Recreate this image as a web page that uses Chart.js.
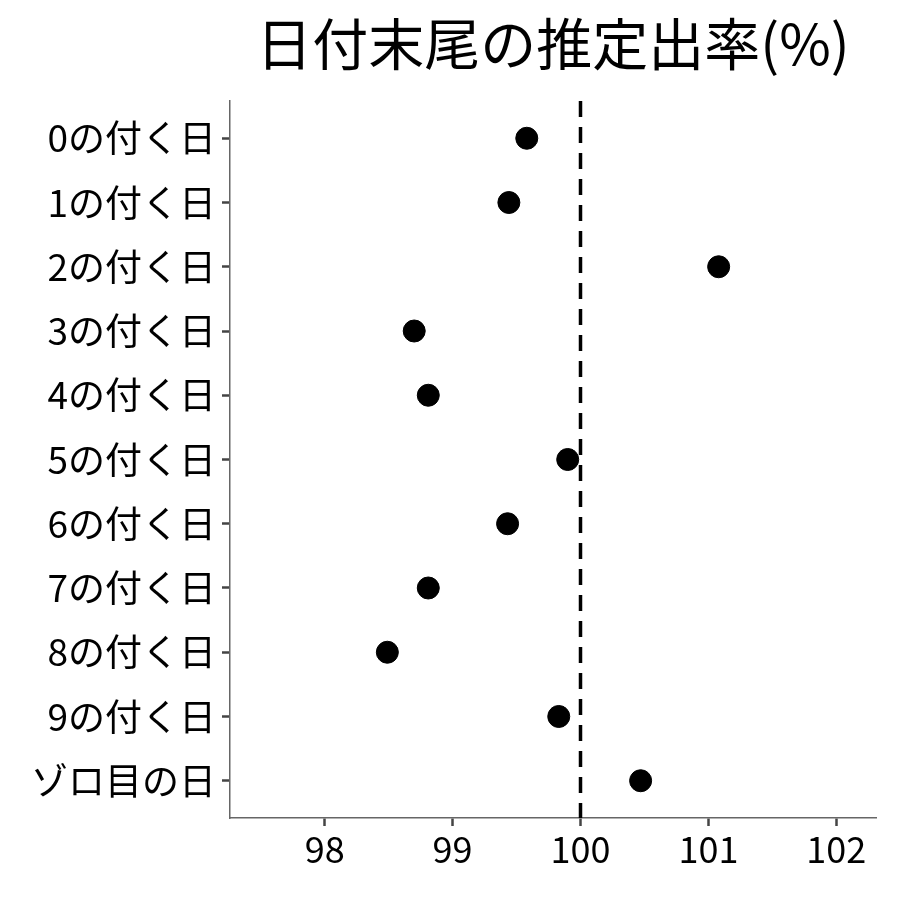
<!DOCTYPE html>
<html>
<head>
<meta charset="utf-8">
<script src="https://cdn.jsdelivr.net/npm/chart.js@4"></script>
<style>
  html, body { margin: 0; padding: 0; background: #fff; }
  #wrap { width: 900px; height: 900px; }
</style>
</head>
<body>
<div id="wrap"><canvas id="chart" width="900" height="900"></canvas></div>
<script>
// Data
const categories = ["0の付く日", "1の付く日", "2の付く日", "3の付く日", "4の付く日",
  "5の付く日", "6の付く日", "7の付く日", "8の付く日", "9の付く日", "ゾロ目の日"];
const rates = [99.58, 99.44, 101.08, 98.70, 98.81, 99.90, 99.43, 98.81, 98.49, 99.83, 100.47];
const xTicks = [98, 99, 100, 101, 102];
const refValue = 100;
const titleText = "日付末尾の推定出率(%)";

const FONT = "'Noto Sans CJK JP', 'Noto Sans', sans-serif";

// Title centred over the plot area + dashed reference line
const extras = {
  id: "extras",
  beforeDatasetsDraw(chart) {
    const { ctx, chartArea, scales } = chart;
    const x = scales.x.getPixelForValue(refValue);
    ctx.save();
    ctx.strokeStyle = "#000";
    ctx.lineWidth = 3.5;
    ctx.setLineDash([16, 10]);
    ctx.beginPath();
    ctx.moveTo(x, chartArea.top);
    ctx.lineTo(x, chartArea.bottom);
    ctx.stroke();
    ctx.restore();
  },
  afterDraw(chart) {
    const { ctx, chartArea } = chart;
    ctx.save();
    ctx.fillStyle = "#000";
    ctx.font = "56px " + FONT;
    ctx.textAlign = "center";
    ctx.textBaseline = "middle";
    ctx.fillText(titleText, (chartArea.left + chartArea.right) / 2, 44);
    ctx.restore();
  }
};

const axisGrid = {
  display: true,
  drawOnChartArea: false,
  drawTicks: true,
  tickLength: 8,
  tickColor: "#444",
  tickWidth: 2.5
};

new Chart(document.getElementById("chart"), {
  type: "scatter",
  data: {
    datasets: [{
      data: rates.map((v, i) => ({ x: v, y: i })),
      backgroundColor: "#000",
      borderColor: "#000",
      pointRadius: 11,
      pointHoverRadius: 11
    }]
  },
  options: {
    responsive: false,
    animation: false,
    layout: { padding: { top: 101, right: 24, left: 0, bottom: 0 } },
    plugins: { legend: { display: false }, tooltip: { enabled: false } },
    scales: {
      x: {
        type: "linear",
        min: 97.26,
        max: 102.31,
        afterBuildTicks(axis) { axis.ticks = xTicks.map(v => ({ value: v })); },
        afterFit(axis) { axis.height = 82; },
        grid: axisGrid,
        border: { display: true, color: "#666", width: 1.5 },
        ticks: { color: "#000", font: { family: FONT, size: 36 }, padding: 2 }
      },
      y: {
        type: "linear",
        reverse: true,
        min: -0.58,
        max: 10.58,
        afterBuildTicks(axis) { axis.ticks = categories.map((c, i) => ({ value: i })); },
        afterFit(axis) { axis.width = 230; },
        grid: axisGrid,
        border: { display: true, color: "#666", width: 1.5 },
        ticks: {
          color: "#000",
          font: { family: FONT, size: 37 },
          padding: 6,
          callback: (v) => categories[v]
        }
      }
    }
  },
  plugins: [extras]
});
</script>
</body>
</html>
